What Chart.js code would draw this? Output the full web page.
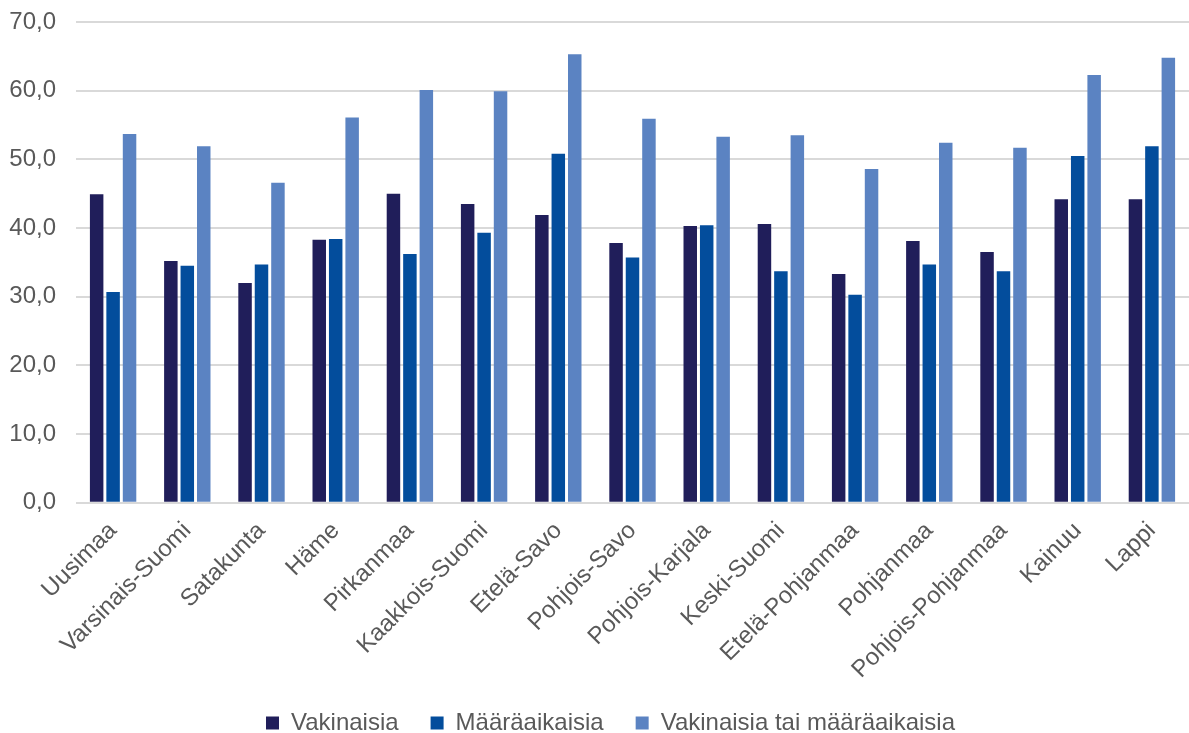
<!DOCTYPE html>
<html>
<head>
<meta charset="utf-8">
<script src="https://cdn.jsdelivr.net/npm/chart.js@4/dist/chart.umd.min.js"></script>
<style>
  html, body { margin: 0; padding: 0; background: #ffffff; }
  #wrap { width: 1189px; height: 733px; position: relative; }
</style>
</head>
<body>
<div id="wrap"><canvas id="c" width="1189" height="733"></canvas></div>
<script>
// Regions
const categories = [
  'Uusimaa', 'Varsinais-Suomi', 'Satakunta', 'Häme', 'Pirkanmaa',
  'Kaakkois-Suomi', 'Etelä-Savo', 'Pohjois-Savo', 'Pohjois-Karjala',
  'Keski-Suomi', 'Etelä-Pohjanmaa', 'Pohjanmaa', 'Pohjois-Pohjanmaa',
  'Kainuu', 'Lappi'
];

const seriesNames = ['Vakinaisia', 'Määräaikaisia', 'Vakinaisia tai määräaikaisia'];

const vakinaisia = [44.9, 35.2, 32.0, 38.3, 45.0, 43.5, 41.9, 37.8, 40.3, 40.6, 33.3, 38.1, 36.5, 44.2, 44.2];
const maaraaikaisia = [30.7, 34.5, 34.7, 38.4, 36.2, 39.3, 50.8, 35.7, 40.4, 33.7, 30.3, 34.7, 33.7, 50.5, 51.9];
const molemmat = [53.7, 51.9, 46.6, 56.1, 60.1, 59.9, 65.3, 55.9, 53.3, 53.5, 48.6, 52.4, 51.7, 62.3, 64.8];

const yTicks = [0, 10, 20, 30, 40, 50, 60, 70];

const colors = ['#201E5A', '#034D9C', '#5B83C2'];
const textColor = '#595959';
const fontFamily = '"Liberation Sans", Arial, sans-serif';

const LEGEND_PAD = 32;
const PLOT_TOP = 22;
const PLOT_BOTTOM = 502.7;
const LEGEND_HEIGHT = 24 + LEGEND_PAD + 10;

// Places the legend row near the bottom edge and lets the slanted
// category labels use the space above it
const layoutTweaks = {
  id: 'layoutTweaks',
  afterLayout(chart) {
    const lg = chart.legend;
    if (lg) {
      const dy = 12, dx = 16;
      lg.top += dy; lg.bottom += dy;
      lg.left += dx; lg.right += dx;
    }
    const x = chart.scales.x;
    x.bottom = chart.height;
    x.height = x.bottom - x.top;
  }
};

const ctx = document.getElementById('c').getContext('2d');
new Chart(ctx, {
  type: 'bar',
  data: {
    labels: categories,
    datasets: [
      { label: seriesNames[0], data: vakinaisia, backgroundColor: colors[0] },
      { label: seriesNames[1], data: maaraaikaisia, backgroundColor: colors[1] },
      { label: seriesNames[2], data: molemmat, backgroundColor: colors[2] }
    ]
  },
  options: {
    responsive: false,
    devicePixelRatio: 1,
    animation: false,
    categoryPercentage: 0.665,
    barPercentage: 0.82,
    layout: { padding: { top: PLOT_TOP, right: 0, bottom: 0, left: 0 } },
    plugins: {
      tooltip: { enabled: false },
      legend: {
        position: 'bottom',
        labels: {
          boxWidth: 13,
          boxHeight: 13,
          padding: LEGEND_PAD,
          color: textColor,
          font: { family: fontFamily, size: 24 }
        }
      }
    },
    scales: {
      x: {
        grid: { display: false },
        border: { display: false },
        ticks: {
          color: textColor,
          font: { family: fontFamily, size: 24 },
          minRotation: 45,
          maxRotation: 45,
          autoSkip: false,
          padding: 6
        },
        afterFit(scale) {
          scale.height = 733 - LEGEND_HEIGHT - PLOT_BOTTOM;
          scale.paddingLeft = 0; scale.paddingRight = 0;
        }
      },
      y: {
        min: 0,
        max: 70,
        afterBuildTicks(scale) { scale.ticks = yTicks.map(v => ({ value: v })); },
        grid: { color: '#D9D9D9', lineWidth: 2, drawTicks: false },
        border: { display: false },
        ticks: {
          color: textColor,
          font: { family: fontFamily, size: 24 },
          padding: 20,
          callback: v => v.toFixed(1).replace('.', ',')
        },
        afterFit(scale) {
          scale.width = 76;
          scale.paddingTop = 0; scale.paddingBottom = 0;
        }
      }
    }
  },
  plugins: [layoutTweaks]
});
</script>
</body>
</html>
